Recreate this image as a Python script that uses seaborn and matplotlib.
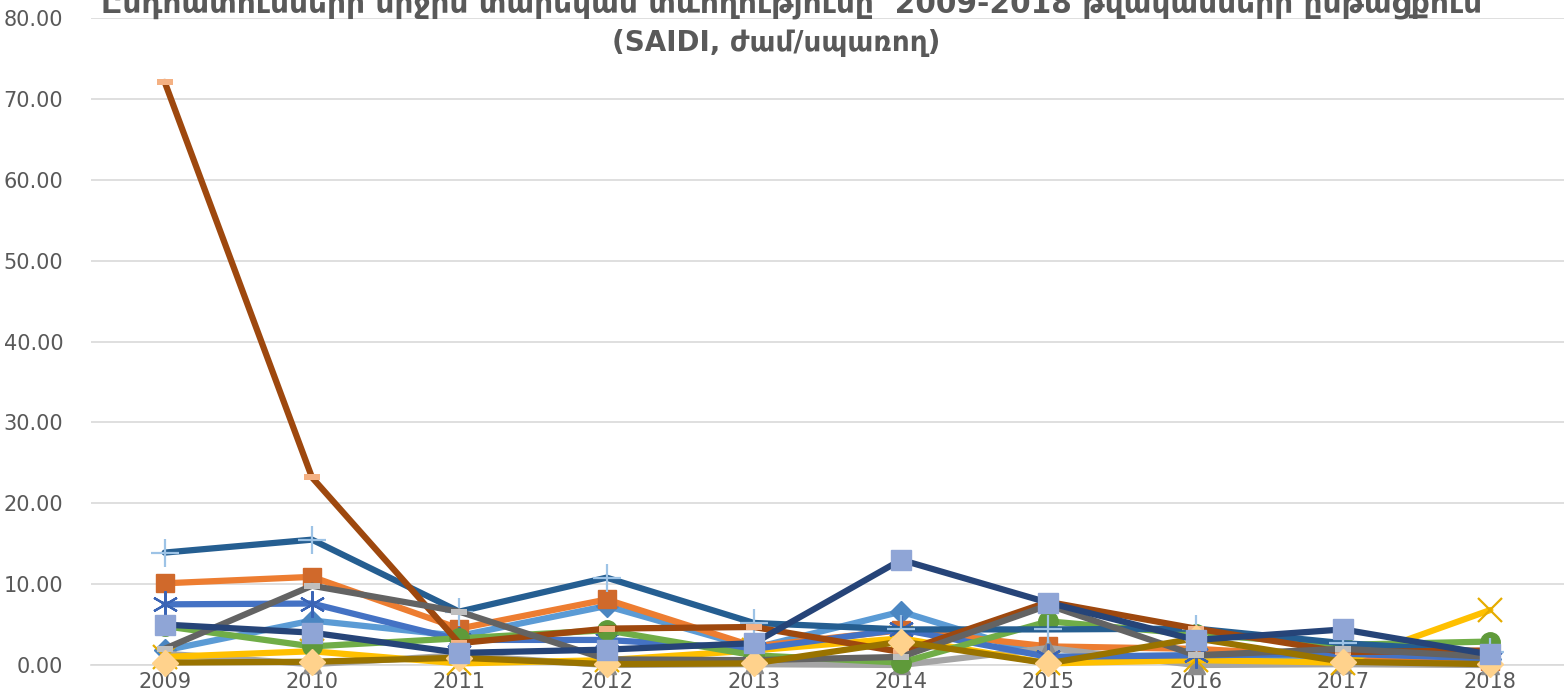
import numpy as np
import pandas as pd
import matplotlib
matplotlib.use("Agg")
import matplotlib.pyplot as plt
import seaborn as sns

# ----- data -----
years = [2009, 2010, 2011, 2012, 2013, 2014, 2015, 2016, 2017, 2018]

light_blue_diamond = [1.8, 5.5, 3.6, 7.3, 2.1, 6.6, 1.0, 1.2, 1.0, 0.8]
orange_square = [10.1, 10.9, 4.5, 8.1, 2.3, 4.3, 2.3, 2.0, 1.0, 0.5]
light_gray_triangle = [1.4, 0.1, 1.2, 0.0, 0.1, 0.0, 2.1, 0.0, 0.1, 0.0]
yellow_x = [1.0, 1.7, 0.2, 0.6, 1.8, 3.3, 0.2, 0.6, 0.3, 6.8]
blue_star = [7.5, 7.6, 3.1, 3.1, 2.0, 4.4, 1.0, 1.2, 1.4, 0.8]
green_circle = [4.8, 2.3, 3.3, 4.3, 1.2, 0.3, 5.4, 3.8, 2.5, 2.9]
steel_plus = [13.9, 15.5, 6.6, 10.8, 5.2, 4.4, 4.4, 4.5, 2.7, 1.6]
brown_dash = [72.1, 23.2, 2.7, 4.5, 4.7, 1.6, 7.8, 4.5, 1.6, 1.8]
gray_dash = [2.0, 9.8, 6.6, 0.7, 0.6, 1.0, 7.4, 1.2, 2.0, 1.0]
olive_diamond = [0.3, 0.4, 0.9, 0.1, 0.2, 2.9, 0.2, 3.3, 0.4, 0.1]
navy_square = [5.0, 4.0, 1.5, 1.9, 2.7, 13.0, 7.7, 3.1, 4.4, 1.3]

title_line1 = "Ընդհատումների միջին տարեկան տևողությունը  2009-2018 թվականների ընթացքում"
title_line2 = "(SAIDI, ժամ/սպառող)"

# ----- styling -----
sns.set_theme(style="white")
plt.rcParams['font.family'] = ['DejaVu Sans']

dash = [(-1, -0.32), (1, -0.32), (1, 0.32), (-1, 0.32)]

# (values, line colour, marker, marker face, marker edge, size, edge width)
series = [
    (light_blue_diamond, "#5B9BD5", "D", "#4A86C2", "#4A86C2", 11, 1),
    (orange_square, "#ED7D31", "s", "#D0692B", "#D0692B", 13, 1),
    (light_gray_triangle, "#A5A5A5", "^", "#8C8C8C", "#8C8C8C", 13, 1),
    (yellow_x, "#FFC000", "x", "none", "#E5AC00", 17, 1.6),
    (blue_star, "#4472C4", (6, 2, 0), "none", "#3A64B5", 19, 1.6),
    (green_circle, "#70AD47", "o", "#5F9A3A", "#5F9A3A", 14, 1),
    (steel_plus, "#255E91", "+", "none", "#9DC3E6", 20, 1.6),
    (brown_dash, "#9E480E", dash, "#F4B183", "#F4B183", 12, 0),
    (gray_dash, "#636363", dash, "#BFBFBF", "#BFBFBF", 12, 0),
    (olive_diamond, "#997300", "D", "#FFD28C", "#FFD28C", 13, 1),
    (navy_square, "#264478", "s", "#8FA5D6", "#8FA5D6", 14, 1),
]

fig = plt.figure(figsize=(15.64, 6.94), dpi=100)
ax = fig.add_axes([91 / 1564, 1 - 665 / 694, 1 - 91 / 1564, (665 - 18) / 694])

for i, (vals, color, marker, face, edge, size, mew) in enumerate(series):
    df = pd.DataFrame({"year": years, "value": vals})
    sns.lineplot(data=df, x="year", y="value", ax=ax, color=color, linewidth=4.5,
                 marker=marker, markersize=size, markerfacecolor=face,
                 markeredgecolor=edge, markeredgewidth=mew, zorder=3 + i,
                 solid_joinstyle="round", clip_on=False)

ax.set_xlim(years[0] - 0.5, years[-1] + 0.5)
ax.set_ylim(0, 80)
ax.set_yticks(np.arange(0, 81, 10))
ax.set_yticklabels([f"{v:.2f}" for v in np.arange(0, 81, 10)])
ax.set_xticks(years)
ax.set_xticklabels([str(y) for y in years])
ax.set_xticks(np.arange(years[0] - 0.5, years[-1] + 1, 1), minor=True)
ax.set_xlabel("")
ax.set_ylabel("")

ax.grid(axis="y", color="#D9D9D9", linewidth=1.2)
ax.grid(axis="x", visible=False)
ax.set_axisbelow(True)
for s in ["left", "right", "top"]:
    ax.spines[s].set_visible(False)
ax.spines["bottom"].set_color("#D9D9D9")
ax.spines["bottom"].set_linewidth(1.2)

ax.tick_params(axis="y", length=0, pad=20, labelsize=15, labelcolor="#595959")
ax.tick_params(axis="x", which="major", length=0, pad=5, labelsize=15, labelcolor="#595959")
ax.tick_params(axis="x", which="minor", length=22, width=1.2, color="#D9D9D9")

fig.text(0.506, 1 - 13 / 694, title_line1, ha="center", va="baseline",
         fontsize=21.3, fontweight="bold", color="#595959")
fig.text(0.496, 1 - 51 / 694, title_line2, ha="center", va="baseline",
         fontsize=20, fontweight="bold", color="#595959")

fig.savefig("out.png", dpi=100)
